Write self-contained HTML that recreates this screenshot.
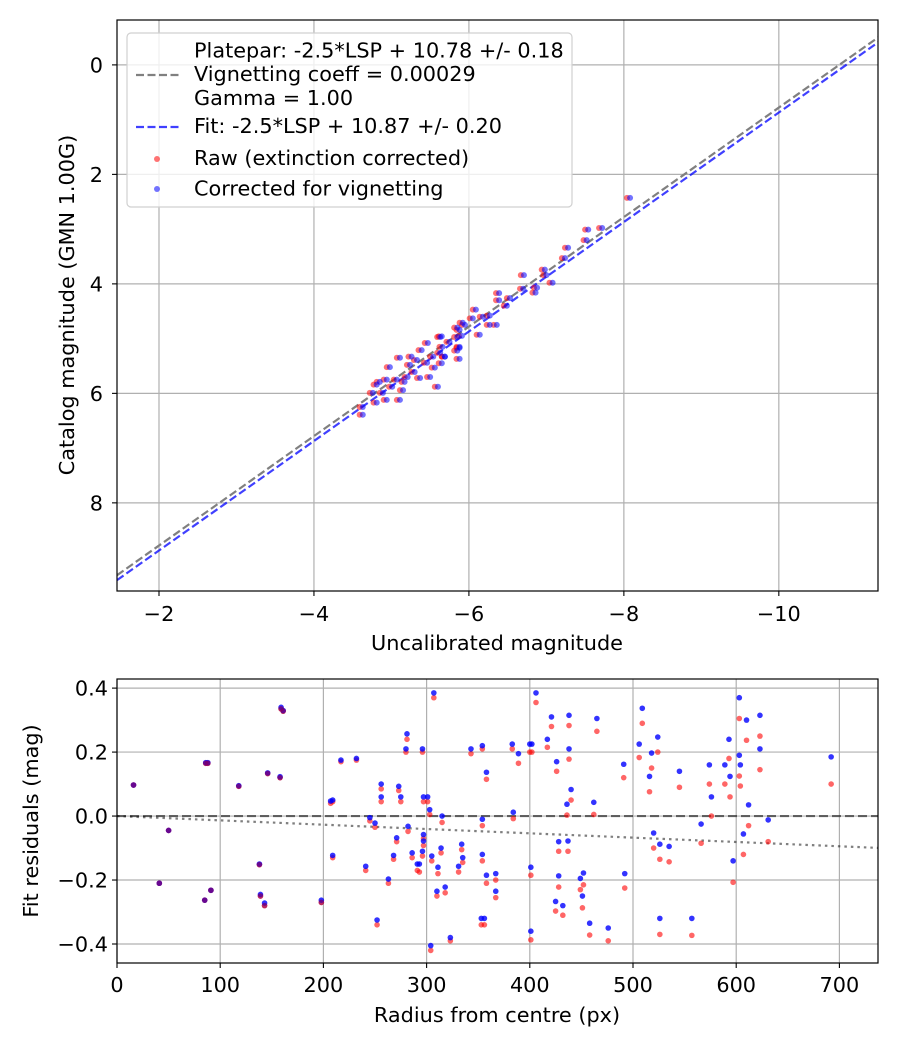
<!DOCTYPE html>
<html><head><meta charset="utf-8"><style>
html,body{margin:0;padding:0;background:#fff;}
svg{display:block;font-family:"DejaVu Sans","Liberation Sans",sans-serif;}
</style></head><body>
<svg id="s" width="900" height="1050" xmlns="http://www.w3.org/2000/svg"></svg>
<script>
// ---- Top chart data ----
const topXTicks = [-2,-4,-6,-8,-10];
const topXTickLabels = ["−2","−4","−6","−8","−10"];
const topYTicks = [0,2,4,6,8];
const topYTickLabels = ["0","2","4","6","8"];
const plateparIntercept = 10.78;
const fitIntercept = 10.87;
const blueX = [-8.08,-7.54,-7.72,-7.52,-7.28,-7.24,-6.71,-6.98,-7.00,-7.08,-6.88,-6.86,-6.70,-6.39,-6.53,-6.39,-6.49,-6.09,-6.05,-6.18,-6.27,-6.27,-6.36,-6.14,-5.92,-5.85,-5.91,-5.65,-5.85,-5.88,-5.66,-5.88,-5.69,-5.65,
 -5.95,-5.88,-5.85,-5.88,-5.75,-5.63,-5.47,-5.63,-5.69,-5.54,-5.39,-5.33,-5.26,-5.11,-5.24,-5.30,-5.46,-5.56,-5.50,-5.37,-5.21,-5.17,-5.07,-4.98,-4.94,-4.85,-4.81,-5.01,-5.15,-4.89,-4.76,-4.94,-5.11,-4.81,-4.63,-4.63,-5.60];
const redX = [-8.04,-7.50,-7.68,-7.48,-7.24,-7.20,-6.67,-6.94,-6.96,-7.04,-6.84,-6.82,-6.66,-6.35,-6.49,-6.35,-6.45,-6.05,-6.01,-6.14,-6.23,-6.23,-6.32,-6.10,-5.88,-5.81,-5.87,-5.61,-5.81,-5.84,-5.62,-5.84,-5.65,-5.61,
 -5.91,-5.84,-5.81,-5.84,-5.71,-5.59,-5.43,-5.59,-5.65,-5.50,-5.35,-5.29,-5.22,-5.07,-5.20,-5.26,-5.42,-5.52,-5.46,-5.33,-5.17,-5.13,-5.03,-4.94,-4.90,-4.81,-4.77,-4.97,-5.11,-4.85,-4.72,-4.90,-5.07,-4.77,-4.59,-4.59,-5.56];
const catY = [2.43,3.01,2.98,3.20,3.34,3.53,3.84,3.74,3.84,3.98,4.07,4.16,4.09,4.17,4.26,4.30,4.40,4.47,4.63,4.60,4.58,4.75,4.75,4.93,4.71,4.80,4.95,4.96,5.22,5.15,5.15,5.37,5.33,5.45,
 4.75,4.84,4.97,5.17,5.06,4.97,5.08,5.26,5.33,5.33,5.21,5.39,5.33,5.35,5.48,5.61,5.44,5.53,5.70,5.72,5.70,5.79,5.75,5.52,5.75,5.79,5.84,5.88,5.94,5.99,5.99,6.12,6.12,6.17,6.25,6.39,5.88];

// ---- Bottom chart data ----
const botXTicks = [0,100,200,300,400,500,600,700];
const botXTickLabels = ["0","100","200","300","400","500","600","700"];
const botYTicks = [0.4,0.2,0.0,-0.2,-0.4];
const botYTickLabels = ["0.4","0.2","0.0","−0.2","−0.4"];
const trendSlope = -0.000135;
const radius = [16,41,50,85,86,88,91,118,138,139,143,146,158,159,161,198,207,209,209,217,232,241,245,250,252,256,256,263,268,271,273,275,281,280,282,286,291,293,296,296,297,301,297,297,303,304,305,307,310,311,314,315,318,323,331,334,335,343,354,354,354,353,356,358,358,367,367,
 383,384,389,400,402,401,401,406,417,421,426,425,428,428,432,436,437,438,438,440,449,451,452,458,462,465,476,491,492,506,509,516,518,520,524,526,526,535,545,557,566,574,576,589,593,594,597,603,603,604,607,610,612,623,623,631,692];
const blueRes = [0.097,-0.21,-0.045,-0.263,0.167,0.167,-0.232,0.095,-0.15,-0.245,-0.272,0.135,0.123,0.34,0.33,-0.263,0.047,0.05,-0.123,0.175,0.18,-0.157,-0.005,-0.022,-0.325,0.1,0.06,-0.197,-0.123,-0.068,0.093,0.06,0.257,0.21,-0.032,-0.115,-0.15,-0.15,0.21,-0.11,0.06,0.06,-0.058,-0.078,0.02,-0.405,-0.125,0.385,-0.235,-0.16,-0.1,0.0,-0.222,-0.38,-0.157,-0.088,-0.13,0.21,0.22,-0.01,-0.12,-0.32,-0.32,0.137,-0.185,-0.235,-0.18,
 0.225,0.012,0.195,0.225,0.225,-0.16,-0.36,0.385,0.24,0.31,0.17,-0.267,-0.08,-0.187,-0.28,0.037,-0.078,0.315,0.21,0.083,-0.195,-0.25,-0.178,-0.335,0.043,0.305,-0.35,0.162,-0.18,0.225,0.337,0.124,0.197,-0.053,0.247,-0.088,-0.32,-0.095,0.14,-0.32,-0.025,0.16,0.06,0.16,0.24,0.124,-0.14,0.37,0.19,0.16,-0.056,0.3,0.035,0.315,0.21,-0.012,0.185];
const redRes = [0.097,-0.21,-0.045,-0.263,0.165,0.165,-0.232,0.093,-0.152,-0.25,-0.28,0.133,0.12,0.335,0.328,-0.27,0.04,0.045,-0.13,0.17,0.175,-0.17,-0.015,-0.035,-0.34,0.085,0.045,-0.21,-0.135,-0.08,0.08,0.045,0.24,0.2,-0.048,-0.13,-0.17,-0.175,0.2,-0.125,0.045,0.045,-0.07,-0.092,0.005,-0.42,-0.14,0.37,-0.25,-0.18,-0.115,-0.02,-0.24,-0.39,-0.175,-0.105,-0.145,0.195,0.21,-0.03,-0.14,-0.34,-0.34,0.115,-0.21,-0.255,-0.2,
 0.21,-0.008,0.165,0.2,0.2,-0.185,-0.387,0.355,0.215,0.28,0.14,-0.297,-0.11,-0.222,-0.31,0.003,-0.11,0.283,0.178,0.05,-0.23,-0.287,-0.215,-0.372,0.005,0.265,-0.39,0.12,-0.225,0.183,0.29,0.076,0.15,-0.1,0.2,-0.135,-0.37,-0.143,0.09,-0.373,-0.085,0.1,0.0,0.1,0.18,0.06,-0.207,0.305,0.125,0.094,-0.12,0.237,-0.03,0.25,0.145,-0.08,0.1];

const NS="http://www.w3.org/2000/svg";
const FS=20.8;
const svg=document.getElementById('s');
function mk(tag,attrs,parent){const e=document.createElementNS(NS,tag);for(const k in attrs)e.setAttribute(k,attrs[k]);(parent||svg).appendChild(e);return e;}

// ===== TOP =====
const T={l:117,r:878,t:20,b:591,x0:-1.458,x1:-11.28,y0:-0.82,y1:9.61};
const tx=v=>T.l+(v-T.x0)/(T.x1-T.x0)*(T.r-T.l);
const ty=v=>T.t+(v-T.y0)/(T.y1-T.y0)*(T.b-T.t);
const gTop=mk('g',{});


const clipT=mk('clipPath',{id:'ct'},gTop);mk('rect',{x:T.l,y:T.t,width:T.r-T.l,height:T.b-T.t},clipT);
topXTicks.forEach((v,i)=>{
  const g=mk('line',{x1:tx(v),x2:tx(v),y1:T.t,y2:T.b,stroke:'#b0b0b0','stroke-width':1.2},gTop);
  
  
  mk('line',{x1:tx(v),x2:tx(v),y1:T.b,y2:T.b+5,stroke:'#000','stroke-width':1.1},gTop);
  const t=mk('text',{x:tx(v),y:T.b+30,'text-anchor':'middle','font-size':FS},gTop);t.textContent=topXTickLabels[i];
  
  
});
topYTicks.forEach((v,i)=>{
  const g=mk('line',{x1:T.l,x2:T.r,y1:ty(v),y2:ty(v),stroke:'#b0b0b0','stroke-width':1.2},gTop);
  
  
  mk('line',{x1:T.l-5,x2:T.l,y1:ty(v),y2:ty(v),stroke:'#000','stroke-width':1.1},gTop);
  const t=mk('text',{x:T.l-14,y:ty(v)+7.5,'text-anchor':'end','font-size':FS},gTop);t.textContent=topYTickLabels[i];
  
  
});
const lp=mk('line',{x1:tx(T.x0),y1:ty(T.x0+plateparIntercept),x2:tx(T.x1),y2:ty(T.x1+plateparIntercept),stroke:'#808080','stroke-width':2.2,'stroke-dasharray':'8 3.5','clip-path':'url(#ct)'},gTop);


const lf=mk('line',{x1:tx(T.x0),y1:ty(T.x0+fitIntercept),x2:tx(T.x1),y2:ty(T.x1+fitIntercept),stroke:'rgba(0,0,255,0.75)','stroke-width':2.2,'stroke-dasharray':'8 3.5','clip-path':'url(#ct)'},gTop);


catY.forEach((c,i)=>{
  const p=mk('circle',{cx:tx(redX[i]),cy:ty(c),r:3,fill:'rgba(255,0,0,0.55)'},gTop);
  
  
});
catY.forEach((c,i)=>{
  const p=mk('circle',{cx:tx(blueX[i]),cy:ty(c),r:3,fill:'rgba(0,0,255,0.55)'},gTop);
  
  
});
mk('rect',{x:T.l,y:T.t,width:T.r-T.l,height:T.b-T.t,fill:'none',stroke:'#000','stroke-width':1.2},gTop);
// legend
const lg=mk('g',{},gTop);


mk('rect',{x:127,y:33,width:445,height:174,rx:4,fill:'rgba(255,255,255,0.8)',stroke:'#d0d0d0','stroke-width':1.2},lg);
[['Platepar: -2.5*LSP + 10.78 +/- 0.18',57.5],['Vignetting coeff = 0.00029',81],['Gamma = 1.00',105],['Fit: -2.5*LSP + 10.87 +/- 0.20',133],['Raw (extinction corrected)',165],['Corrected for vignetting',195.5]].forEach(a=>{
  const t=mk('text',{x:194,y:a[1],'font-size':FS},lg);t.textContent=a[0];
  
  
});
mk('line',{x1:136,x2:180,y1:75,y2:75,stroke:'#808080','stroke-width':2.2,'stroke-dasharray':'8 3.5'},lg);
mk('line',{x1:136,x2:180,y1:127,y2:127,stroke:'rgba(0,0,255,0.75)','stroke-width':2.2,'stroke-dasharray':'8 3.5'},lg);
mk('circle',{cx:157,cy:159,r:3,fill:'rgba(255,0,0,0.55)'},lg);
mk('circle',{cx:157,cy:189,r:3,fill:'rgba(0,0,255,0.55)'},lg);
let t1=mk('text',{x:497,y:650,'text-anchor':'middle','font-size':FS},gTop);t1.textContent='Uncalibrated magnitude';


let t2=mk('text',{x:0,y:0,'text-anchor':'middle','font-size':FS,transform:'translate(74,305) rotate(-90)'},gTop);t2.textContent='Catalog magnitude (GMN 1.00G)';



// ===== BOTTOM =====
const B={l:117,r:878,t:679,b:963,x0:0,x1:737.4,y0:0.4285,y1:-0.4594};
const bx=v=>B.l+(v-B.x0)/(B.x1-B.x0)*(B.r-B.l);
const by=v=>B.t+(v-B.y0)/(B.y1-B.y0)*(B.b-B.t);
const gB=mk('g',{});


const clipB=mk('clipPath',{id:'cb'},gB);mk('rect',{x:B.l,y:B.t,width:B.r-B.l,height:B.b-B.t},clipB);
botXTicks.forEach((v,i)=>{
  const g=mk('line',{x1:bx(v),x2:bx(v),y1:B.t,y2:B.b,stroke:'#b0b0b0','stroke-width':1.2},gB);
  
  
  mk('line',{x1:bx(v),x2:bx(v),y1:B.b,y2:B.b+5,stroke:'#000','stroke-width':1.1},gB);
  const t=mk('text',{x:bx(v),y:B.b+29,'text-anchor':'middle','font-size':FS},gB);t.textContent=botXTickLabels[i];
  
  
});
botYTicks.forEach((v,i)=>{
  const g=mk('line',{x1:B.l,x2:B.r,y1:by(v),y2:by(v),stroke:'#b0b0b0','stroke-width':1.2},gB);
  
  
  mk('line',{x1:B.l-5,x2:B.l,y1:by(v),y2:by(v),stroke:'#000','stroke-width':1.1},gB);
  const t=mk('text',{x:B.l-9,y:by(v)+7.5,'text-anchor':'end','font-size':FS},gB);t.textContent=botYTickLabels[i];
  
  
});
const zl=mk('line',{x1:B.l,x2:B.r,y1:by(0),y2:by(0),stroke:'rgba(0,0,0,0.55)','stroke-width':2.2,'stroke-dasharray':'9 4'},gB);


const tl=mk('line',{x1:bx(0),y1:by(0),x2:bx(B.x1),y2:by(trendSlope*B.x1),stroke:'rgba(0,0,0,0.5)','stroke-width':2.2,'stroke-dasharray':'2.5 4','clip-path':'url(#cb)'},gB);


radius.forEach((r,i)=>{
  const p=mk('circle',{cx:bx(r),cy:by(redRes[i]),r:2.8,fill:'rgba(255,0,0,0.6)'},gB);
  
  
});
radius.forEach((r,i)=>{
  const p=mk('circle',{cx:bx(r),cy:by(blueRes[i]),r:2.8,fill:'rgba(0,0,255,0.8)'},gB);
  
  
});
radius.forEach((r,i)=>{ if(r<200){
  const p=mk('circle',{cx:bx(r),cy:by(redRes[i]),r:2.8,fill:'rgba(140,0,90,0.6)'},gB);
  
  
}});
mk('rect',{x:B.l,y:B.t,width:B.r-B.l,height:B.b-B.t,fill:'none',stroke:'#000','stroke-width':1.2},gB);
let t3=mk('text',{x:497,y:1022,'text-anchor':'middle','font-size':FS},gB);t3.textContent='Radius from centre (px)';


let t4=mk('text',{x:0,y:0,'text-anchor':'middle','font-size':FS,transform:'translate(38,821) rotate(-90)'},gB);t4.textContent='Fit residuals (mag)';


</script>
</body></html>
